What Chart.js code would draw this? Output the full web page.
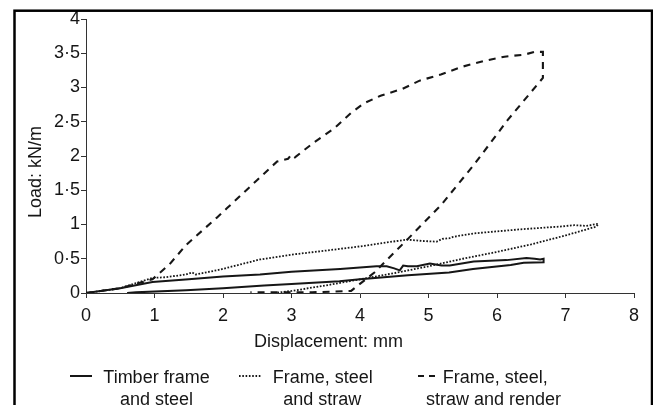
<!DOCTYPE html>
<html>
<head>
<meta charset="utf-8">
<script src="https://cdn.jsdelivr.net/npm/chart.js@4.4.1/dist/chart.umd.min.js"></script>
<style>
  html, body { margin: 0; padding: 0; background: #fff; overflow: hidden; }
  #wrap { position: relative; width: 653px; height: 405px; }
</style>
</head>
<body>
<div id="wrap"><canvas id="loadChart" width="653" height="405"></canvas></div>
<script>
// load-displacement loops, values (mm, kN/m)
const seriesNames = ['Timber frame\nand steel', 'Frame, steel\nand straw', 'Frame, steel,\nstraw and render'];

// timber frame and steel (solid) - loading then unloading
const timberX = [0, 0.5, 0.97, 1.5, 2.0, 2.54, 3.0, 3.71, 4.24, 4.39, 4.5, 4.58, 4.63, 4.7, 4.83, 5.02, 5.19, 5.31, 5.66, 6.14, 6.43, 6.55, 6.63, 6.68,
                 6.68, 6.39, 6.2, 5.65, 5.3, 4.7, 4.0, 3.7, 3.0, 2.6, 2.0, 1.46, 0.73, 0.6];
const timberY = [0, 0.07, 0.16, 0.2, 0.24, 0.27, 0.31, 0.35, 0.39, 0.39, 0.36, 0.33, 0.40, 0.39, 0.39, 0.43, 0.40, 0.40, 0.46, 0.48, 0.51, 0.50, 0.49, 0.50,
                 0.45, 0.44, 0.41, 0.35, 0.30, 0.26, 0.20, 0.17, 0.13, 0.11, 0.07, 0.04, 0.01, 0.0];

// frame, steel and straw (dotted)
const strawX = [0, 0.5, 0.97, 1.16, 1.46, 1.55, 1.6, 1.95, 2.54, 3.0, 3.51, 4.0, 4.68, 4.9, 5.12, 5.2, 5.31, 5.36, 5.66, 6.0, 6.35, 6.92, 7.13, 7.3, 7.48,
                7.45, 7.0, 6.5, 6.0, 5.5, 5.0, 4.5, 4.0, 3.5, 3.0, 2.75];
const strawY = [0, 0.07, 0.22, 0.23, 0.27, 0.30, 0.27, 0.34, 0.49, 0.56, 0.62, 0.68, 0.78, 0.76, 0.75, 0.79, 0.80, 0.82, 0.87, 0.90, 0.93, 0.97, 0.99, 0.98, 1.01,
                0.97, 0.84, 0.71, 0.60, 0.50, 0.39, 0.29, 0.20, 0.11, 0.03, 0.0];

// frame, steel, straw and render (dashed)
const renderX = [0, 0.5, 0.97, 1.22, 1.46, 1.91, 2.06, 2.5, 2.79, 2.95, 3.0, 3.05, 3.33, 3.62, 3.87, 4.06, 4.3, 4.62, 4.87, 5.18, 5.48, 5.82, 6.11, 6.4, 6.55, 6.67,
                 6.67, 6.67, 6.16, 5.67, 5.18, 4.7, 4.21, 3.87, 3.3, 2.4];
const renderY = [0, 0.07, 0.2, 0.42, 0.7, 1.1, 1.24, 1.65, 1.92, 1.96, 2.02, 1.98, 2.2, 2.4, 2.63, 2.77, 2.88, 2.98, 3.1, 3.19, 3.3, 3.39, 3.45, 3.48, 3.52, 3.52,
                 3.3, 3.14, 2.53, 1.88, 1.28, 0.79, 0.3, 0.03, 0.01, 0.01];

const xTickLabels = ['0', '1', '2', '3', '4', '5', '6', '7', '8'];
const yTickLabels = ['0', '0·5', '1', '1·5', '2', '2·5', '3', '3·5', '4'];
const xTitle = 'Displacement: mm';
const yTitle = 'Load: kN/m';

const ink = '#161616';
const fontFamily = '"Liberation Sans", Arial, sans-serif';

function toPoints(xs, ys) {
    return xs.map((x, i) => ({ x: x, y: ys[i] }));
}

// frame, axis titles and the two-line legend are drawn here
const figurePlugin = {
    id: 'figure',
    afterDraw(chart) {
        const ctx = chart.ctx;
        ctx.save();
        ctx.strokeStyle = '#000';
        ctx.lineWidth = 2.5;
        ctx.strokeRect(14.5, 10.7, 637.5, 500);

        ctx.fillStyle = ink;
        ctx.font = '18px ' + fontFamily;
        ctx.textBaseline = 'alphabetic';
        ctx.textAlign = 'center';
        ctx.fillText(xTitle, 328.5, 346.5);

        ctx.save();
        ctx.translate(41.3, 172);
        ctx.rotate(-Math.PI / 2);
        ctx.fillText(yTitle, 0, 0);
        ctx.restore();

        const legendPos = [
            { x0: 70, x1: 92, dash: [], tx: [103.3, 120] },
            { x0: 239, x1: 262, dash: [1.6, 1.7], tx: [272.7, 283.3] },
            { x0: 418, x1: 435, dash: [6, 5], tx: [442.7, 426] }
        ];
        ctx.textAlign = 'left';
        chart.data.datasets.forEach((ds, i) => {
            const p = legendPos[i];
            ctx.beginPath();
            ctx.setLineDash(p.dash);
            ctx.lineWidth = ds.borderWidth;
            ctx.strokeStyle = ds.borderColor;
            ctx.moveTo(p.x0, 376);
            ctx.lineTo(p.x1, 376);
            ctx.stroke();
            ds.label.split('\n').forEach((line, j) => {
                ctx.fillText(line, p.tx[j], 382.5 + j * 22);
            });
        });
        ctx.restore();
    }
};

const ctx = document.getElementById('loadChart').getContext('2d');
new Chart(ctx, {
    type: 'scatter',
    data: {
        datasets: [
            {
                label: seriesNames[0],
                data: toPoints(timberX, timberY),
                borderColor: ink,
                borderWidth: 2,
                borderDash: []
            },
            {
                label: seriesNames[1],
                data: toPoints(strawX, strawY),
                borderColor: ink,
                borderWidth: 1.8,
                borderDash: [1.7, 1.6]
            },
            {
                label: seriesNames[2],
                data: toPoints(renderX, renderY),
                borderColor: ink,
                borderWidth: 2.1,
                borderDash: [7, 6]
            }
        ]
    },
    options: {
        responsive: false,
        animation: false,
        showLine: true,
        elements: {
            point: { radius: 0, hoverRadius: 0 },
            line: { tension: 0, fill: false }
        },
        layout: {
            padding: { left: 0, top: 19, right: 19, bottom: 82 }
        },
        scales: {
            x: {
                type: 'linear',
                min: 0,
                max: 8,
                afterFit: (scale) => { scale.height = 30; },
                ticks: {
                    stepSize: 1,
                    padding: 7,
                    color: ink,
                    font: { family: fontFamily, size: 18 },
                    callback: (v) => xTickLabels[Math.round(v)]
                },
                grid: { drawOnChartArea: false, drawTicks: true, tickLength: 5, color: '#333' },
                border: { display: true, color: '#333', width: 1 }
            },
            y: {
                type: 'linear',
                min: 0,
                max: 4,
                afterFit: (scale) => { scale.width = 86; },
                ticks: {
                    stepSize: 0.5,
                    padding: 1,
                    color: ink,
                    font: { family: fontFamily, size: 18 },
                    callback: (v) => yTickLabels[Math.round(v * 2)]
                },
                grid: { drawOnChartArea: false, drawTicks: true, tickLength: 5, color: '#333' },
                border: { display: true, color: '#333', width: 1 }
            }
        },
        plugins: {
            legend: { display: false },
            tooltip: { enabled: false }
        }
    },
    plugins: [figurePlugin]
});
</script>
</body>
</html>
